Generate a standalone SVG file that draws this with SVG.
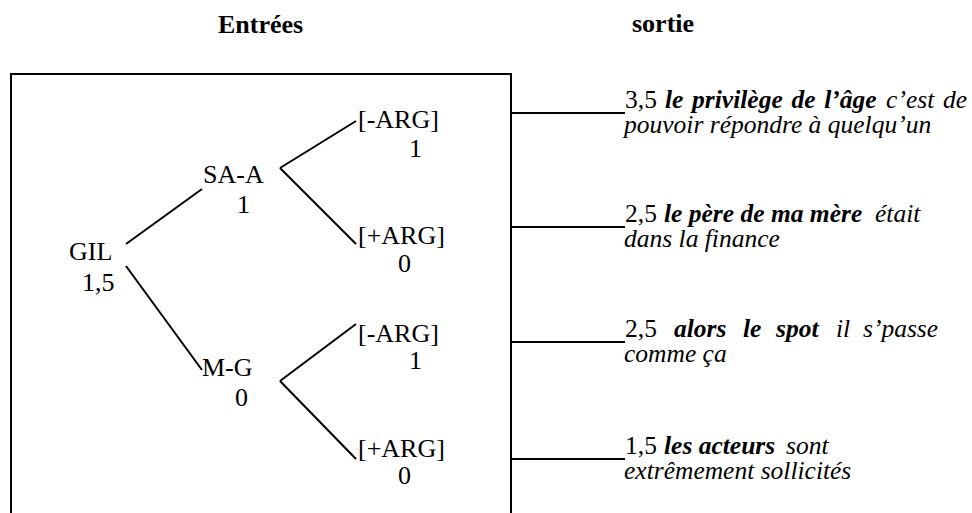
<svg xmlns="http://www.w3.org/2000/svg" width="972" height="513" viewBox="0 0 972 513">
<style>
text{font-family:"Liberation Serif","Times New Roman",serif;font-size:26px;fill:#000}
.h{font-weight:bold}
.r{font-size:25.5px}
.i{font-size:25.5px;font-style:italic}
.b{font-size:25.5px;font-weight:bold;font-style:italic}
.j{word-spacing:2.3px}
line,path{stroke:#000;stroke-width:2;fill:none}
</style>
<rect width="972" height="513" style="fill:#fff;stroke:none"/>
<g id="headers">
<text class="h" x="218" y="33">Entrées</text>
<text class="h" x="632" y="32">sortie</text>
</g>
<g id="box">
<path d="M11,520 V74 H511 V520"/>
</g>
<g id="connectors">
<line x1="126" y1="244" x2="202" y2="189"/>
<line x1="126" y1="266" x2="202" y2="370"/>
<line x1="280" y1="168" x2="356" y2="121"/>
<line x1="280" y1="168" x2="356" y2="244"/>
<line x1="280" y1="381" x2="356" y2="324"/>
<line x1="280" y1="381" x2="356" y2="459"/>
<line x1="511" y1="113" x2="625" y2="113"/>
<line x1="511" y1="227" x2="625" y2="227"/>
<line x1="511" y1="342" x2="625" y2="342"/>
<line x1="511" y1="459" x2="625" y2="459"/>
</g>
<g id="node-gil"><text x="69" y="260">GIL</text><text x="82" y="291">1,5</text></g>
<g id="node-saa"><text x="203" y="183">SA-A</text><text x="237" y="213">1</text></g>
<g id="node-mg"><text x="202" y="376">M-G</text><text x="235" y="406">0</text></g>
<g id="node-saa-minus"><text x="358" y="128">[-ARG]</text><text x="409" y="157">1</text></g>
<g id="node-saa-plus"><text x="358" y="244">[+ARG]</text><text x="398" y="272">0</text></g>
<g id="node-mg-minus"><text x="358" y="342">[-ARG]</text><text x="409" y="369">1</text></g>
<g id="node-mg-plus"><text x="358" y="457">[+ARG]</text><text x="398" y="484">0</text></g>
<g id="out-1">
<text class="r" x="625" y="108">3,5</text>
<text class="b j" x="665" y="108">le privilège de l’âge</text>
<text class="i j" x="967" y="108" text-anchor="end">c’est de</text>
<text class="i" x="624" y="133">pouvoir répondre à quelqu’un</text>
</g>
<g id="out-2">
<text class="r" x="625" y="222">2,5</text>
<text class="b" x="664" y="222">le père de ma mère</text>
<text class="i" x="875" y="222">était</text>
<text class="i" x="624" y="247">dans la finance</text>
</g>
<g id="out-3">
<text class="r" x="625" y="337">2,5</text>
<text class="b" x="674" y="337">alors</text>
<text class="b" x="743" y="337">le</text>
<text class="b" x="776" y="337">spot</text>
<text class="i" x="836" y="337">il</text>
<text class="i" x="863" y="337">s’passe</text>
<text class="i" x="624" y="362">comme ça</text>
</g>
<g id="out-4">
<text class="r" x="625" y="454">1,5</text>
<text class="b" x="664" y="454">les acteurs</text>
<text class="i" x="786" y="454">sont</text>
<text class="i" x="624" y="479">extrêmement sollicités</text>
</g>
</svg>
